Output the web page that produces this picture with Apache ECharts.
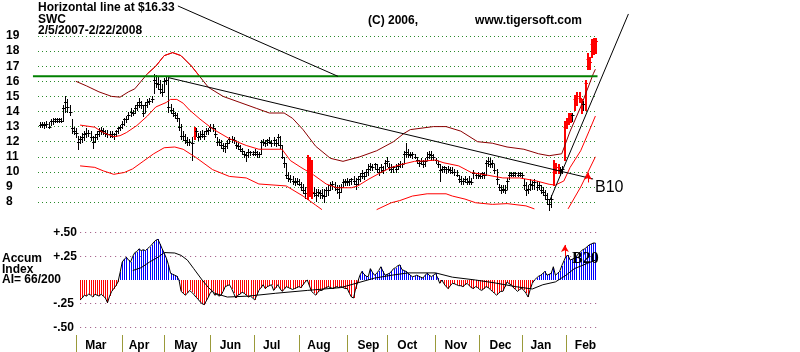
<!DOCTYPE html>
<html>
<head>
<meta charset="utf-8">
<script src="https://cdn.jsdelivr.net/npm/echarts@6/dist/echarts.min.js"></script>
<style>
  html, body { margin: 0; padding: 0; background: #fff; }
  #chart { width: 800px; height: 352px; }
</style>
</head>
<body>
<div id="chart"></div>
<script>
// daily bars, 2/5/2007 .. 2/22/2008 (index = trading day)
const highs = [
  13.3,13.3,13.3,13.4,13.3,13.5,13.6,13.6,13.6,13.6,
  13.6,14.4,15.0,14.8,14.4,13.5,13.0,12.9,12.4,12.4,
  12.6,12.7,12.9,12.8,12.7,12.4,12.5,12.7,12.9,13.0,
  12.9,12.8,12.8,12.7,12.7,12.6,12.8,13.0,13.1,13.4,
  13.6,13.7,14.0,14.2,14.1,14.4,14.6,14.9,14.7,14.4,
  14.6,14.8,14.9,15.0,16.5,16.4,16.3,16.1,15.8,16.2,
  16.3,16.2,14.5,14.2,14.0,13.9,13.6,13.2,12.7,12.5,
  12.3,12.2,12.3,13.0,12.9,12.6,12.7,12.8,12.7,12.9,
  12.9,13.2,13.2,12.9,12.3,12.2,12.1,11.9,11.9,12.1,
  12.3,12.4,12.3,12.0,11.9,11.8,11.6,11.4,11.3,11.5,
  11.4,11.4,11.5,11.4,11.3,12.1,12.2,12.1,12.2,12.3,
  12.1,12.3,12.2,12.5,12.4,11.8,11.0,10.6,10.0,9.8,
  9.7,9.6,9.6,9.5,9.3,9.2,9.0,11.1,11.0,10.8,
  9.0,8.9,8.9,8.8,8.9,8.9,9.0,9.1,9.3,9.4,
  9.3,9.1,9.1,9.2,9.5,9.5,9.6,9.5,9.6,9.7,
  9.6,9.7,9.9,10.1,10.0,10.2,10.5,10.6,10.5,10.6,
  10.5,10.3,10.5,10.4,10.8,11.0,10.6,10.5,10.4,10.5,
  10.6,10.7,10.6,11.4,11.9,11.5,11.3,11.3,11.2,11.0,
  10.8,10.9,10.8,10.9,11.3,11.4,11.4,11.2,10.9,10.7,
  10.5,10.4,10.4,10.3,10.4,10.3,10.3,10.2,10.1,9.8,
  9.7,9.6,9.7,9.6,9.7,9.6,10.1,9.9,10.0,9.9,
  10.0,10.0,10.8,11.0,10.9,10.8,10.5,10.2,9.2,9.1,
  9.1,9.1,9.6,10.0,10.0,10.0,10.0,10.0,10.0,9.9,
  9.5,9.3,9.1,9.5,9.4,9.5,9.4,9.3,9.1,9.0,
  8.8,8.6,8.2,8.5,10.8,10.6,10.5,10.3,10.4,13.4,
  13.6,13.9,13.9,13.9,15.1,15.3,15.3,14.8,14.7,16.1,
  17.9,17.6,18.8,18.9,18.9
]
const lows = [
  13.0,13.0,12.9,13.0,12.9,13.1,13.2,13.3,13.3,13.3,
  13.3,13.4,14.0,14.0,13.8,12.6,12.5,12.3,11.5,11.9,
  12.0,12.1,12.3,12.4,12.1,11.6,12.0,12.2,12.4,12.5,
  12.5,12.4,12.3,12.3,12.3,12.2,12.4,12.6,12.8,12.9,
  13.1,13.3,13.5,13.7,13.8,13.9,14.1,14.3,14.2,13.7,
  14.0,14.3,14.5,14.6,15.2,15.6,15.5,15.2,15.0,15.3,
  15.8,14.0,13.9,13.7,13.6,13.4,12.8,12.2,12.1,11.9,
  11.8,11.8,10.8,12.2,12.4,12.1,12.2,12.3,12.2,12.5,
  12.5,12.7,12.7,12.3,11.8,11.8,11.6,11.4,11.3,11.6,
  11.9,12.0,11.9,11.6,11.5,11.4,11.2,11.0,10.7,11.0,
  11.1,11.1,11.1,11.0,11.0,11.2,11.8,11.7,11.8,11.9,
  11.7,11.8,11.7,11.8,11.6,10.9,10.3,9.6,9.4,9.3,
  9.2,9.1,9.2,9.1,8.8,8.6,8.3,8.2,8.4,8.3,
  8.4,8.1,8.4,8.3,8.3,8.0,8.4,8.5,8.8,8.9,
  8.8,8.6,8.3,8.7,9.0,9.1,9.1,9.1,9.2,9.2,
  8.9,9.2,9.4,9.6,9.5,9.7,9.8,10.1,10.1,10.2,
  10.0,9.8,10.0,9.9,10.2,10.4,10.1,10.0,10.0,10.0,
  10.2,10.3,10.3,10.6,11.0,11.0,11.0,10.9,10.9,10.6,
  10.4,10.5,10.3,10.4,10.8,10.9,10.8,10.8,10.6,10.3,
  9.4,10.0,10.0,9.9,10.0,9.9,9.9,9.8,9.7,9.3,
  9.2,9.2,9.3,9.2,9.2,9.2,9.6,9.6,9.6,9.6,
  9.6,9.6,9.8,10.4,10.3,10.3,9.9,9.2,8.8,8.6,
  8.7,8.6,8.9,9.5,9.7,9.7,9.7,9.7,9.7,9.6,
  8.9,8.5,8.6,8.8,8.9,8.9,8.8,8.9,8.6,8.5,
  8.2,7.9,7.5,7.7,9.1,9.9,9.9,9.8,9.9,10.8,
  12.9,13.2,13.3,13.4,14.1,14.4,14.6,13.9,14.1,14.1,
  16.8,16.8,17.6,17.8,17.9
]
const closes = [
  13.1,13.2,13.1,13.2,13.0,13.4,13.4,13.5,13.4,13.5,
  13.4,14.2,14.6,14.3,14.0,12.9,12.7,12.6,12.0,12.2,
  12.3,12.5,12.6,12.6,12.3,12.0,12.3,12.5,12.7,12.8,
  12.7,12.6,12.5,12.5,12.4,12.5,12.7,12.9,13.0,13.2,
  13.5,13.5,13.8,14.0,13.9,14.2,14.4,14.6,14.4,13.9,
  14.4,14.6,14.7,14.8,16.1,15.9,15.8,15.5,15.3,16.0,
  16.1,14.3,14.1,13.9,13.8,13.6,13.0,12.4,12.4,12.1,
  12.0,12.0,11.9,12.4,12.7,12.3,12.4,12.5,12.4,12.7,
  12.8,13.0,12.9,12.5,12.0,12.0,11.8,11.6,11.7,11.9,
  12.2,12.2,12.1,11.8,11.7,11.5,11.4,11.2,11.1,11.3,
  11.3,11.2,11.3,11.2,11.2,12.0,12.0,11.9,12.1,12.0,
  11.9,12.1,11.9,12.3,11.8,11.0,10.6,9.8,9.6,9.5,
  9.4,9.3,9.4,9.2,9.0,8.8,8.6,8.6,8.9,8.7,
  8.6,8.5,8.7,8.6,8.5,8.4,8.8,8.8,9.1,9.2,
  9.0,8.9,8.7,9.0,9.3,9.4,9.3,9.4,9.5,9.4,
  9.2,9.5,9.7,9.9,9.7,10.0,10.2,10.4,10.3,10.5,
  10.2,10.0,10.3,10.1,10.6,10.7,10.3,10.2,10.3,10.2,
  10.4,10.5,10.5,11.2,11.3,11.2,11.1,11.2,11.0,10.8,
  10.6,10.7,10.5,10.7,11.0,11.2,11.1,11.0,10.8,10.5,
  10.1,10.2,10.3,10.2,10.2,10.1,10.0,10.0,9.8,9.5,
  9.4,9.4,9.5,9.3,9.4,9.3,9.9,9.8,9.8,9.7,
  9.9,9.8,10.6,10.7,10.5,10.6,10.1,9.5,9.0,8.8,
  8.9,8.8,9.4,9.8,9.9,9.8,9.9,9.8,9.9,9.8,
  9.1,8.8,8.9,9.2,9.1,9.3,9.0,9.1,8.8,8.7,
  8.5,8.2,7.9,8.2,10.0,10.3,10.1,10.1,10.2,13.0,
  13.3,13.6,13.6,13.8,14.8,15.0,14.9,14.3,14.5,15.9,
  17.5,17.3,18.5,18.6,18.7
]
const redBars = [73, 127, 128, 129, 244, 245, 246, 249, 250, 251, 252, 254, 255, 256, 257, 259, 260, 261, 262, 263, 264]

// price bands [day, price]
const upperBand = [
  [17,16.0],[22,15.7],[28,15.3],[34,15.0],[38,14.95],[42,15.3],[45,15.5],[48,16.0],[51,16.5],[55,17.0],
  [59,17.7],[63,17.9],[67,17.7],[72,17.0],[76,16.3],[80,15.6],[87,15.0],[95,14.6],[103,14.2],[109,13.9],
  [116,13.9],[120,13.55],[125,12.8],[131,11.7],[138,10.9],[144,10.7],[152,11.0],[160,11.4],[168,12.0],[173,12.55],
  [176,12.8],[187,13.0],[193,13.0],[200,12.7],[208,12.0],[215,11.9],[222,11.65],[230,11.5],[237,11.2],[242,11.07],
  [248,11.2],[252,12.7],[257,14.3],[260,15.4],[263,16.5],[264,16.8]
]
const middleBand = [
  [19,13.1],[26,12.96],[30,12.6],[35,12.33],[38,12.4],[41,12.6],[46,13.07],[51,13.7],[55,14.3],[60,14.6],
  [62,14.8],[65,14.8],[68,14.55],[71,14.1],[76,13.5],[82,12.85],[90,12.2],[98,11.75],[104,11.5],[115,11.5],
  [119,10.75],[124,10.3],[130,9.8],[136,9.2],[141,8.95],[148,8.95],[151,9.07],[156,9.5],[162,9.96],[167,10.3],
  [172,10.5],[178,10.7],[183,10.73],[188,10.78],[192,10.6],[199,10.4],[205,9.96],[212,9.8],[220,9.6],[228,9.6],
  [236,9.4],[242,9.18],[245,9.13],[249,9.4],[252,10.3],[257,11.4],[261,12.7],[264,13.7]
]
const lowerBand = [
  [19,10.4],[26,10.3],[30,10.07],[35,9.84],[40,9.96],[44,10.2],[49,10.7],[54,11.2],[59,11.6],[64,11.65],
  [68,11.5],[74,10.96],[82,10.15],[90,9.7],[98,9.6],[104,9.2],[117,9.07],[125,8.4],[131,7.8],[134,7.5],
  [147,'-'],
  [160,7.5],[167,7.96],[171,8.1],[177,8.4],[184,8.55],[193,8.55],[196,8.4],[202,8.2],[207,7.96],[215,7.85],
  [222,7.9],[231,7.75],[235,7.55],
  [243,'-'],
  [251,7.55],[257,9.0],[264,11.0]
]
const upperRedFrom = 49
const upperRedTo = 77

// annotation lines, same day/price units as the bars
const hLineLevel = 16.33
const hLine = [[-3.4, hLineLevel], [265, hLineLevel]]
const downTrend = [[60.8, 16.25], [262.9, 9.53]]
const upTrend = [[242.4, 8.14], [279.7, 20.46]]
const pointerLine = [[65.5, 20.99], [141.6, hLineLevel]]

// Accumulation Index, daily from day 19
const accumStart = 19
const accum = [
  -0.21,-0.19,-0.16,-0.17,-0.15,-0.16,-0.18,-0.15,-0.16,-0.17,
  -0.15,-0.17,-0.19,-0.24,-0.17,-0.12,-0.09,-0.06,-0.02,0.08,
  0.19,0.22,0.24,0.21,0.19,0.25,0.29,0.30,0.33,0.31,
  0.32,0.31,0.33,0.35,0.37,0.40,0.42,0.43,0.38,0.33,
  0.28,0.23,0.16,0.07,0.06,0.05,0.04,0.0,-0.12,-0.14,
  -0.16,-0.14,-0.11,-0.13,-0.15,-0.18,-0.20,-0.23,-0.25,-0.26,
  -0.22,-0.18,-0.13,-0.12,-0.16,-0.15,-0.17,-0.16,-0.12,-0.07,
  -0.06,-0.05,-0.09,-0.14,-0.19,-0.16,-0.15,-0.13,-0.14,-0.16,
  -0.18,-0.17,-0.19,-0.21,-0.16,-0.11,-0.08,-0.05,-0.09,-0.07,
  -0.06,-0.05,-0.11,-0.08,-0.05,-0.09,-0.12,-0.10,-0.07,-0.08,
  -0.09,-0.10,-0.09,-0.08,-0.07,-0.08,-0.05,-0.02,0.0,-0.06,
  -0.12,-0.14,-0.16,-0.13,-0.11,-0.11,-0.09,-0.08,-0.07,-0.08,
  -0.09,-0.08,-0.07,-0.08,-0.07,-0.08,-0.09,-0.09,-0.14,-0.18,
  -0.19,-0.09,-0.02,0.05,0.09,0.06,0.04,0.035,0.12,0.08,
  0.05,0.07,0.10,0.14,0.09,0.05,0.06,0.07,0.09,0.12,
  0.13,0.15,0.16,0.11,0.10,0.09,0.07,0.05,0.035,0.04,
  0.05,0.04,0.03,0.02,0.05,0.07,0.05,0.035,0.05,0.07,
  0.02,-0.035,0.0,-0.04,-0.07,-0.09,-0.06,-0.035,-0.04,-0.05,
  -0.06,-0.06,-0.07,-0.05,-0.035,-0.06,-0.08,-0.09,-0.07,-0.08,
  -0.10,-0.11,-0.09,-0.07,-0.08,-0.10,-0.12,-0.14,-0.16,-0.14,
  -0.12,-0.12,-0.07,-0.02,-0.04,-0.05,-0.08,-0.10,-0.12,-0.10,
  -0.09,-0.11,-0.14,-0.18,-0.10,-0.035,0.0,0.02,0.04,0.05,
  0.07,0.09,0.05,0.06,0.07,0.14,0.05,0.07,0.09,0.15,
  0.20,0.25,0.26,0.21,0.22,0.23,0.25,0.28,0.30,0.32,
  0.33,0.35,0.37,0.38,0.39,0.39
]
const accumMA = [
  [44,0.10],[48,0.13],[52,0.19],[56,0.24],[59,0.29],[64,0.285],[67,0.26],[70,0.21],[73,0.12],[77,0.0],
  [80,-0.08],[83,-0.14],[89,-0.18],[99,-0.17],[112,-0.14],[127,-0.11],[143,-0.08],[151,-0.03],[159,0.02],[167,0.05],
  [175,0.075],[188,0.075],[196,0.03],[207,0.0],[216,-0.03],[226,-0.07],[234,-0.095],[239,-0.05],[245,-0.02],[250,0.05],
  [254,0.12],[264,0.21]
]

const monthNames = ['Mar', 'Apr', 'May', 'Jun', 'Jul', 'Aug', 'Sep', 'Oct', 'Nov', 'Dec', 'Jan', 'Feb']
const monthStarts = [17, 39, 59, 81, 102, 123, 146, 165, 188, 209, 229, 250]
const monthLabelAt = [26.5, 47, 69.3, 90.5, 110.1, 132.6, 156.1, 174.6, 197.7, 218.9, 238.1, 259.3]
const accumTickLabels = { '0.5': '+.50', '0.25': '+.25', '-0.25': '-.25', '-0.5': '-.50' }

const FONT = '"Liberation Sans", Arial, sans-serif'
const GRID_GREEN = '#2a8a2a'
const AI_DOTS = '#9a4a7a'
const CLEAR = 'rgba(0,0,0,0)'

// price panel geometry: 266 days over 559.5px, 13 dollars over 196.3px
const PX_DAY = 559.5 / 266
const PX_DOLLAR = 196.3 / 13

const redSet = new Set(redBars)
const priceData = highs.map((h, i) => [i, h, lows[i], closes[i]])
const accumData = accum.map((v, k) => [accumStart + k, v])
const upperRed = upperBand.filter(p => p[0] >= upperRedFrom && p[0] <= upperRedTo)

function lineSeries(data, color, extra) {
  return Object.assign({
    type: 'line',
    data,
    showSymbol: false,
    silent: true,
    lineStyle: { color, width: 1 },
    xAxisIndex: 0,
    yAxisIndex: 0,
  }, extra || {})
}

function textItem(text, x, y, font, extra) {
  return {
    type: 'text',
    x,
    y,
    z: 100,
    silent: true,
    style: Object.assign({ text, font, fill: '#000', verticalAlign: 'middle' }, extra || {}),
  }
}

const redArrow = (from, to) => ({
  silent: true,
  symbol: ['none', 'arrow'],
  symbolSize: [6, 7],
  label: { show: false },
  lineStyle: { color: '#ff0000', type: 'solid', width: 1 },
  data: [[{ coord: from }, { coord: to }]],
})

const chart = echarts.init(document.getElementById('chart'), null, { renderer: 'canvas' })

chart.setOption({
  animation: false,
  backgroundColor: '#fff',
  grid: [
    { left: 38, right: 202.5, top: 20.9, height: 196.3 },
    { left: 80.16, right: 202.5, top: 232.65, height: 94.7 },
    { left: 38, right: 202.5, top: 330, height: 5 },
    // whole-canvas overlay sharing the price scale, for lines that run past the plot
    { left: 0, right: 0, top: 0, bottom: 0 },
  ],
  xAxis: [
    { gridIndex: 0, type: 'value', min: -1, max: 265, show: false },
    { gridIndex: 1, type: 'value', min: 19, max: 265, show: false },
    {
      gridIndex: 2, type: 'value', min: -1, max: 265,
      axisLine: { show: false },
      splitLine: { show: false },
      axisTick: { show: true, customValues: monthStarts, length: 17, lineStyle: { color: '#9a9a3a', width: 1 } },
      axisLabel: {
        customValues: monthLabelAt,
        margin: 5,
        formatter: v => monthNames[monthLabelAt.indexOf(v)] || '',
        color: '#000',
        fontFamily: FONT,
        fontWeight: 'bold',
        fontSize: 12,
      },
    },
    { gridIndex: 3, type: 'value', min: -1 - 38 / PX_DAY, max: -1 + 762 / PX_DAY, show: false },
  ],
  yAxis: [
    {
      gridIndex: 0, type: 'value', min: 7, max: 20, interval: 1,
      axisLine: { show: false },
      axisTick: { show: false },
      axisLabel: {
        align: 'left',
        margin: 32,
        formatter: v => (v >= 8 && v <= 19 ? String(v) : ''),
        color: '#000',
        fontFamily: FONT,
        fontWeight: 'bold',
        fontSize: 12,
      },
      splitLine: { show: true, showMinLine: false, showMaxLine: false, lineStyle: { color: GRID_GREEN, type: [1, 3], width: 1 } },
    },
    {
      gridIndex: 1, type: 'value', min: -0.5, max: 0.5, interval: 0.25,
      axisLine: { show: false },
      axisTick: { show: false },
      axisLabel: {
        align: 'left',
        margin: 27,
        formatter: v => accumTickLabels[String(v)] || '',
        color: '#000',
        fontFamily: FONT,
        fontWeight: 'bold',
        fontSize: 12,
      },
      splitLine: { show: true, lineStyle: { color: [AI_DOTS, AI_DOTS, CLEAR, AI_DOTS, AI_DOTS], type: [1, 4], width: 1 } },
    },
    { gridIndex: 2, type: 'value', show: false },
    { gridIndex: 3, type: 'value', min: 20 - (352 - 20.9) / PX_DOLLAR, max: 20 + 20.9 / PX_DOLLAR, show: false, splitLine: { show: false } },
  ],
  series: [
    lineSeries(upperBand, '#8b0000'),
    lineSeries(upperRed, '#ff0000'),
    lineSeries(middleBand, '#ff0000'),
    lineSeries(lowerBand, '#ff0000'),
    {
      type: 'custom',
      xAxisIndex: 0,
      yAxisIndex: 0,
      silent: true,
      data: priceData,
      encode: { x: 0, y: [1, 2, 3] },
      renderItem(params, api) {
        const day = api.value(0)
        const top = api.coord([day, api.value(1)])
        const bottom = api.coord([day, api.value(2)])
        const close = api.coord([day, api.value(3)])
        const isRed = redSet.has(day)
        // red bars are drawn two pixels wide, as in the source chart
        const x = isRed ? Math.round(top[0]) + 1 : Math.round(top[0]) + 0.5
        const cy = Math.round(close[1]) + 0.5
        const color = isRed ? '#ff0000' : '#000000'
        return {
          type: 'group',
          children: [
            { type: 'line', shape: { x1: x, y1: Math.round(top[1]), x2: x, y2: Math.round(bottom[1]) + 1 }, style: { stroke: color, lineWidth: isRed ? 2 : 1 } },
            { type: 'line', shape: { x1: x - 1.5, y1: cy, x2: x + 2, y2: cy }, style: { stroke: color, lineWidth: 1 } },
          ],
        }
      },
    },
    lineSeries(hLine, '#008000', { xAxisIndex: 3, yAxisIndex: 3, lineStyle: { color: '#008000', width: 2 } }),
    lineSeries(downTrend, '#000', { xAxisIndex: 3, yAxisIndex: 3 }),
    lineSeries(upTrend, '#000', { xAxisIndex: 3, yAxisIndex: 3, markLine: redArrow([260.5, 9.3], [260.5, 9.95]) }),
    lineSeries(pointerLine, '#000', { xAxisIndex: 3, yAxisIndex: 3 }),
    {
      type: 'custom',
      xAxisIndex: 1,
      yAxisIndex: 1,
      silent: true,
      data: accumData,
      encode: { x: 0, y: 1 },
      renderItem(params, api) {
        const day = api.value(0)
        const v = api.value(1)
        const base = api.coord([day, 0])
        const tip = api.coord([day, v])
        const y0 = Math.round(Math.min(base[1], tip[1]))
        const y1 = Math.round(Math.max(base[1], tip[1]))
        return {
          type: 'rect',
          shape: { x: Math.round(base[0]), y: y0, width: 1, height: Math.max(1, y1 - y0) },
          style: { fill: v >= 0 ? '#0000ff' : '#ff0000', stroke: null, lineWidth: 0 },
        }
      },
    },
    lineSeries(accumData, '#000', { xAxisIndex: 1, yAxisIndex: 1, markLine: redArrow([249.5, 0.25], [249.5, 0.37]) }),
    lineSeries(accumMA, '#000', { xAxisIndex: 1, yAxisIndex: 1 }),
  ],
  graphic: [
    textItem('Horizontal line at $16.33', 38, 7.5, 'bold 12px ' + FONT),
    textItem('SWC', 38, 19.5, 'bold 12px ' + FONT),
    textItem('2/5/2007-2/22/2008', 38, 31, 'bold 12px ' + FONT),
    textItem('(C) 2006,', 368, 21, 'bold 12px ' + FONT),
    textItem('www.tigersoft.com', 582, 21, 'bold 12px ' + FONT, { align: 'right' }),
    textItem('B10', 595, 188, '16px ' + FONT),
    textItem('B20', 572, 259, 'bold 16px "Liberation Serif", serif'),
    textItem('Accum', 2, 259, 'bold 12px ' + FONT),
    textItem('Index', 2, 269.5, 'bold 12px ' + FONT),
    textItem('AI= 66/200', 2, 280, 'bold 12px ' + FONT),
  ],
})
</script>
</body>
</html>
